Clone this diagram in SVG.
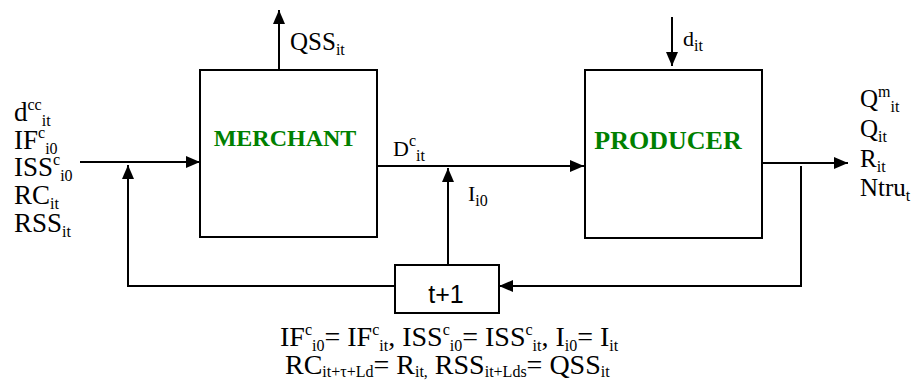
<svg xmlns="http://www.w3.org/2000/svg" width="917" height="381" viewBox="0 0 917 381">
<style>
.box{fill:#fff;stroke:#000;stroke-width:2}
.con{fill:none;stroke:#000;stroke-width:2;marker-end:url(#ah)}
.lbl{font-family:"Liberation Serif","Times New Roman",serif;fill:#000}
.l27{font-size:27px}
.l25{font-size:25px}
.l22{font-size:22px}
.l28{font-size:28px}
.s{font-size:16px}
.title{font-family:"Liberation Serif","Times New Roman",serif;font-weight:bold;fill:#008000;text-anchor:middle}
.sans{font-family:"Liberation Sans",Arial,sans-serif;font-size:25px;fill:#000;text-anchor:middle}
</style>
<defs>
<marker id="ah" viewBox="0 0 14 12" refX="14" refY="6" markerWidth="14" markerHeight="12" markerUnits="userSpaceOnUse" orient="auto"><path d="M0,0 L14,6 L0,12 z" fill="#000"/></marker>
</defs>
<rect width="917" height="381" fill="#fff"/>
<g id="merchant">
<rect class="box" x="200" y="70" width="177" height="167"/>
<text class="title" x="285" y="146" font-size="24">MERCHANT</text>
</g>
<g id="producer">
<rect class="box" x="585" y="70" width="177" height="168"/>
<text class="title" x="668" y="149" font-size="26">PRODUCER</text>
</g>
<g id="delay">
<rect class="box" x="395" y="265" width="104" height="48"/>
<text class="sans" x="446" y="303">t+1</text>
</g>
<g id="connectors">
<path class="con" d="M279,70 V10"/>
<path class="con" d="M672,17 V66"/>
<path class="con" d="M80,162 H200"/>
<path class="con" d="M377,166 H584"/>
<path class="con" d="M448,265 V168"/>
<path class="con" d="M395,286 H128 V165"/>
<path class="con" d="M762,163 H848"/>
<path class="con" d="M801,166 V286 H499"/>
</g>
<g id="labels">
<text class="lbl l25" x="290" y="50">QSS<tspan class="s" y="55">it</tspan></text>
<text class="lbl l22" x="683" y="46">d<tspan class="s" y="51">it</tspan></text>
<text class="lbl l22" x="393" y="156">D<tspan class="s" y="146">c</tspan><tspan class="s" y="161">it</tspan></text>
<text class="lbl l22" x="468" y="201">I<tspan class="s" y="206">i0</tspan></text>
<text class="lbl l27" x="14" y="121">d<tspan class="s" y="110">cc</tspan><tspan class="s" y="126">it</tspan></text>
<text class="lbl l27" x="14" y="149">IF<tspan class="s" y="138">c</tspan><tspan class="s" y="154">i0</tspan></text>
<text class="lbl l27" x="14" y="176">ISS<tspan class="s" y="165">c</tspan><tspan class="s" y="181">i0</tspan></text>
<text class="lbl l27" x="14" y="204">RC<tspan class="s" y="209">it</tspan></text>
<text class="lbl l27" x="14" y="232">RSS<tspan class="s" y="237">it</tspan></text>
<text class="lbl l25" x="860" y="107">Q<tspan class="s" y="97">m</tspan><tspan class="s" y="112">it</tspan></text>
<text class="lbl l25" x="860" y="137">Q<tspan class="s" y="142">it</tspan></text>
<text class="lbl l25" x="860" y="167">R<tspan class="s" y="172">it</tspan></text>
<text class="lbl l25" x="860" y="196">Ntru<tspan class="s" y="201">t</tspan></text>
<text class="lbl l28" x="280" y="346">IF<tspan class="s" y="335">c</tspan><tspan class="s" y="351">i0</tspan><tspan y="346">= IF</tspan><tspan class="s" y="335">c</tspan><tspan class="s" y="351">it</tspan><tspan y="346">, ISS</tspan><tspan class="s" y="335">c</tspan><tspan class="s" y="351">i0</tspan><tspan y="346">= ISS</tspan><tspan class="s" y="335">c</tspan><tspan class="s" y="351">it</tspan><tspan y="346">, I</tspan><tspan class="s" y="351">i0</tspan><tspan y="346">= I</tspan><tspan class="s" y="351">it</tspan></text>
<text class="lbl l28" x="285" y="374">RC<tspan class="s" y="377">it+τ+Ld</tspan><tspan y="374">= R</tspan><tspan class="s" y="377">it,</tspan><tspan y="374"> RSS</tspan><tspan class="s" y="377">it+Lds</tspan><tspan y="374">= QSS</tspan><tspan class="s" y="377">it</tspan></text>
</g>
</svg>
